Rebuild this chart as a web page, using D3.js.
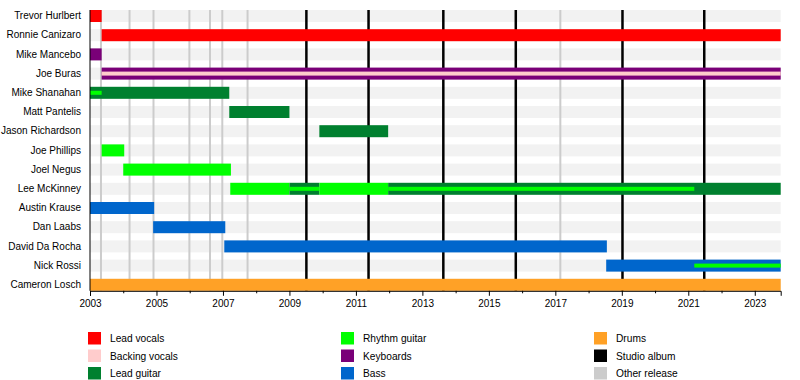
<!DOCTYPE html>
<html><head><meta charset="utf-8">
<script src="https://cdn.jsdelivr.net/npm/d3@7/dist/d3.min.js"></script>
<style>body{margin:0;background:#fff}svg{display:block;font-family:"Liberation Sans",Arial,sans-serif}</style>
</head><body><svg id="c" width="800" height="380"></svg>
<script>
const members = ["Trevor Hurlbert","Ronnie Canizaro","Mike Mancebo","Joe Buras","Mike Shanahan","Matt Pantelis","Jason Richardson","Joe Phillips","Joel Negus","Lee McKinney","Austin Krause","Dan Laabs","David Da Rocha","Nick Rossi","Cameron Losch"];
const roles = ["Lead vocals","Backing vocals","Lead guitar","Rhythm guitar","Keyboards","Bass","Drums","Studio album","Other release"];
const roleColors = ["#ff0000","#ffcccc","#00802f","#00ff00","#7a0078","#0066cc","#ffa126","#000000","#cccccc"];
const END = 2023.78;
// main bars: [member, role, start, end]
const bars = [
  ["Trevor Hurlbert","Lead vocals",2003,2003.35],
  ["Ronnie Canizaro","Lead vocals",2003.35,END],
  ["Mike Mancebo","Keyboards",2003,2003.35],
  ["Joe Buras","Keyboards",2003.35,END],
  ["Mike Shanahan","Lead guitar",2003,2007.19],
  ["Matt Pantelis","Lead guitar",2007.19,2009.0],
  ["Jason Richardson","Lead guitar",2009.9,2011.97],
  ["Joe Phillips","Rhythm guitar",2003.35,2004.03],
  ["Joel Negus","Rhythm guitar",2004.0,2007.24],
  ["Lee McKinney","Rhythm guitar",2007.22,2009.0],
  ["Lee McKinney","Lead guitar",2009.0,2009.9],
  ["Lee McKinney","Rhythm guitar",2009.9,2011.97],
  ["Lee McKinney","Lead guitar",2011.97,END],
  ["Austin Krause","Bass",2003,2004.93],
  ["Dan Laabs","Bass",2004.9,2007.07],
  ["David Da Rocha","Bass",2007.04,2018.55],
  ["Nick Rossi","Bass",2018.53,END],
  ["Cameron Losch","Drums",2003,END]
];
// secondary thin stripes: [member, role, start, end]
const stripes = [
  ["Joe Buras","Backing vocals",2003.35,END],
  ["Mike Shanahan","Rhythm guitar",2003,2003.35],
  ["Lee McKinney","Rhythm guitar",2009.0,2009.9],
  ["Lee McKinney","Rhythm guitar",2011.97,2021.18],
  ["Nick Rossi","Rhythm guitar",2021.18,END]
];
const studioAlbums = [2009.51,2011.38,2013.63,2015.81,2019.02,2021.48];
const otherReleases = [2003.33,2004.19,2004.91,2005.99,2006.61,2006.98,2007.74,2017.15];
const tickYears = d3.range(2003,2024,2);
const minorYears = d3.range(2004,2024,2);

const FONT = "Liberation Sans, Arial, sans-serif";
const svg = d3.select("#c");
const x = d3.scaleLinear().domain([2003,END]).range([90,780.7]);
const y = d3.scaleBand().domain(members).range([6.4,294.4]).paddingInner(0.375).paddingOuter(0.1875);
const color = d3.scaleOrdinal().domain(roles).range(roleColors);
const bw = y.bandwidth();

// background bands
svg.append("g").selectAll("rect").data(members).join("rect")
  .attr("x",x(2003)).attr("width",x(END)-x(2003))
  .attr("y",d=>y(d)).attr("height",bw).attr("fill","#f2f2f2");

const plotTop = y(members[0]), plotBottom = y(members[members.length-1])+bw;
// release lines
svg.append("g").selectAll("line").data(otherReleases).join("line")
  .attr("x1",d=>x(d)).attr("x2",d=>x(d)).attr("y1",plotTop).attr("y2",plotBottom)
  .attr("stroke",color("Other release")).attr("stroke-width",2);
svg.append("g").selectAll("line").data(studioAlbums).join("line")
  .attr("x1",d=>x(d)).attr("x2",d=>x(d)).attr("y1",plotTop).attr("y2",plotBottom)
  .attr("stroke",color("Studio album")).attr("stroke-width",2.5);

// bars
svg.append("g").selectAll("rect").data(bars).join("rect")
  .attr("x",d=>x(d[2])).attr("width",d=>x(d[3])-x(d[2]))
  .attr("y",d=>y(d[0])).attr("height",bw).attr("fill",d=>color(d[1]));
svg.append("g").selectAll("rect").data(stripes).join("rect")
  .attr("x",d=>x(d[2])).attr("width",d=>x(d[3])-x(d[2]))
  .attr("y",d=>y(d[0])+bw/2-2).attr("height",4).attr("fill",d=>color(d[1]));

// axes
const xAxis = d3.axisBottom(x).tickValues(tickYears).tickFormat(d3.format("d")).tickSize(5).tickPadding(4);
const gx = svg.append("g").attr("transform",`translate(0,${plotBottom})`).call(xAxis);
gx.select(".domain").attr("stroke","#000");
gx.selectAll("text").attr("font-size",10).attr("font-family",FONT).attr("fill","#000");
svg.append("g").attr("transform",`translate(0,${plotBottom})`)
  .call(d3.axisBottom(x).tickValues(minorYears).tickSize(2.5).tickFormat(""))
  .select(".domain").remove();

const yAxis = d3.axisLeft(y).tickSize(0).tickPadding(9);
const gy = svg.append("g").attr("transform",`translate(${x(2003)},0)`).call(yAxis);
gy.select(".domain").attr("stroke","#000").attr("d",`M0,${plotTop}V${plotBottom}`);
gy.selectAll("text").attr("font-size",10).attr("font-family",FONT).attr("fill","#000");

// legend
const legendCols = [88,341,594];
const legendRows = [332,349.5,367];
const leg = svg.append("g").selectAll("g").data(roles).join("g")
  .attr("transform",(d,i)=>`translate(${legendCols[Math.floor(i/3)]},${legendRows[i%3]})`);
leg.append("rect").attr("width",13).attr("height",12.5).attr("fill",d=>color(d));
leg.append("text").attr("x",22).attr("y",6.5).attr("dy","0.35em")
  .attr("font-size",10.2).attr("font-family",FONT).text(d=>d);
</script></body></html>
